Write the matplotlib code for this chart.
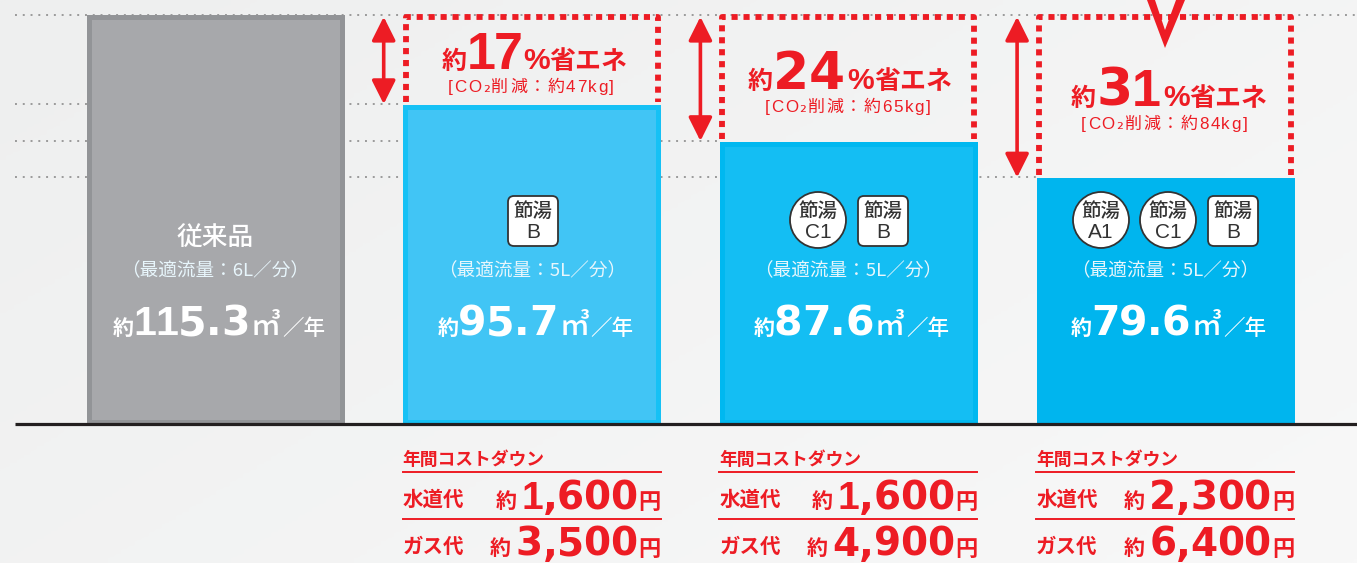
"""節水シャワーの年間使用水量比較チャート"""

import numpy as np
import matplotlib
matplotlib.use('Agg')
import matplotlib.pyplot as plt
from matplotlib.patches import Circle, FancyBboxPatch, Polygon

plt.rcParams['font.family'] = ['Noto Sans CJK JP', 'DejaVu Sans']

# データ
products = ['従来品', '', '', '']
flow_labels = ['（最適流量：6L／分）', '（最適流量：5L／分）', '（最適流量：5L／分）', '（最適流量：5L／分）']
water_m3 = [115.3, 95.7, 87.6, 79.6]
water_labels = ['115.3', '95.7', '87.6', '79.6']
saving_pct = [None, '17', '24', '31']
co2_labels = [None, '[CO₂削減：約47kg]', '[CO₂削減：約65kg]', '[CO₂削減：約84kg]']
badges = [[], [('B', 'r')], [('C1', 'c'), ('B', 'r')], [('A1', 'c'), ('C1', 'c'), ('B', 'r')]]
water_cost = [None, '1,600', '1,600', '2,300']
gas_cost = [None, '3,500', '4,900', '6,400']

# 色
fills = ['#A7A8AB', '#41C5F5', '#14BEF3', '#00B5EE']
edges = ['#929497', '#16C1F5', '#00B8F0', '#00B5EE']
RED = '#ED1C24'
FONT_JP = 'Noto Sans CJK JP'

W, H = 1357, 563
BASE_Y = 424
# 元の図は軸が途中から始まっている
PX_PER_M3 = 4.557
BASE_V = 25.5
BAR_X0, BAR_DX, BAR_W = 215, 316.7, 258
EDGE_PX = 5


def val_to_py(v):
    return BASE_Y - (v - BASE_V) * PX_PER_M3


fig = plt.figure(figsize=(W / 100, H / 100), dpi=100)

# 背景のグラデーション
bg = fig.add_axes([0, 0, 1, 1])
grad = np.linspace(0, 1, 200)[None, :] * 0.6 + np.linspace(0, 1, 200)[:, None] * 0.4
bg.imshow(grad, cmap=matplotlib.colors.LinearSegmentedColormap.from_list('bg', ['#EEEFEF', '#F8F8F8']),
          aspect='auto', extent=(0, 1, 0, 1))
bg.axis('off')

# 棒グラフ本体
ax = fig.add_axes([0, 0, 1, 1], facecolor='none')
ax.set_xlim(-BAR_X0 / BAR_DX, (W - BAR_X0) / BAR_DX)
ax.set_ylim(BASE_V - (H - BASE_Y) / PX_PER_M3, BASE_V + BASE_Y / PX_PER_M3)
ax.axis('off')
idx = np.arange(len(water_m3))
# 点線は各棒の左端まで、一番上だけ右端まで
line_ends = [(W - BAR_X0) / BAR_DX] + [i - BAR_W / BAR_DX / 2 for i in idx[1:]]
ax.hlines(water_m3, (15 - BAR_X0) / BAR_DX, line_ends, color='#9A9A9A',
          lw=1.4, linestyles=(0, (1, 3)), zorder=1)
inset = EDGE_PX / 2 / PX_PER_M3
ax.bar(idx, np.array(water_m3) - BASE_V - 2 * inset, bottom=BASE_V + inset,
       width=(BAR_W - EDGE_PX) / BAR_DX, color=fills, edgecolor=edges, linewidth=EDGE_PX * 0.72, zorder=2)

# 装飾用のピクセル座標軸
ov = fig.add_axes([0, 0, 1, 1], facecolor='none')
ov.set_xlim(0, W)
ov.set_ylim(H, 0)
ov.axis('off')
ov.plot([15, W], [BASE_Y, BASE_Y], color='#231F20', lw=2.3, zorder=3, solid_capstyle='butt')
renderer = fig.canvas.get_renderer()


def digit_font(ch):
    return 'Liberation Sans' if ch == '1' else 'DejaVu Sans'


def co2_font(ch):
    return 'Liberation Sans' if ch.isascii() else [FONT_JP, 'DejaVu Sans']


def put(x, y, s, px, color, weight='bold', family=FONT_JP, gap=1.0):
    t = ov.text(x, y, s, fontsize=px * 0.72, color=color, fontweight=weight, family=family,
                ha='left', va='baseline', zorder=6)
    return x + t.get_window_extent(renderer).width + gap


def put_num(x, y, s, px, color, gap=1.5, font_of=digit_font, weight='bold'):
    for ch in s:
        x = put(x, y, ch, px, color, weight=weight, family=font_of(ch), gap=gap)
    return x


def run_width(s, px, gap, weight, font_of):
    total = 0
    for ch in s:
        t = ov.text(0, 0, ch, fontsize=px * 0.72, fontweight=weight, family=font_of(ch), alpha=0)
        total += t.get_window_extent(renderer).width + gap
        t.remove()
    return total


# 各棒の中の文字
left_water = [113, 438, 754, 1071]
for i, v in enumerate(water_m3):
    cx = BAR_X0 + i * BAR_DX
    if products[i]:
        ov.text(cx, 237, products[i], fontsize=18.5, color='white', ha='center', va='center',
                fontweight='medium', zorder=6)
    ov.text(cx, 271, flow_labels[i], fontsize=13.4, color='#E8F6FC', ha='center', va='center',
            fontweight='normal', zorder=6)
    x = put(left_water[i], 335, '約', 21, 'white', gap=-1)
    x = put_num(x, 335, water_labels[i], 41, 'white', gap=-0.5)
    x = put(x + 2, 335, '㎥', 30, 'white', weight='medium', gap=1)
    put(x, 335, '／年', 21.5, 'white', weight='medium', gap=0)

# バッジ
badge_x = [[], [533], [818, 883], [1101, 1168, 1233]]
for i, row in enumerate(badges):
    for (code, kind), bx in zip(row, badge_x[i]):
        if kind == 'c':
            ov.add_patch(Circle((bx, 220), 28, fc='white', ec='#333333', lw=1.3, zorder=5))
        else:
            ov.add_patch(FancyBboxPatch((bx - 22, 199), 44, 44, boxstyle='round,pad=3,rounding_size=6',
                                        fc='white', ec='#333333', lw=1.3, zorder=5))
        ov.text(bx, 211, '節湯', fontsize=14, color='#333333', ha='center', va='center',
                fontweight='medium', zorder=6)
        ov.text(bx, 233, code, fontsize=15, color='#333333', ha='center', va='center',
                family='Liberation Sans', zorder=6)

# 省エネの点線枠と矢印
left_save = [None, 442, 748, 1071]
base_save = [None, 69, 89, 106]
base_co2 = [None, 92, 112, 129]
for i in range(1, 4):
    cx = BAR_X0 + i * BAR_DX
    left, right = cx - BAR_W / 2 + 3, cx + BAR_W / 2 - 3
    top_y = val_to_py(water_m3[0]) + 2
    bar_y = val_to_py(water_m3[i])
    ov.plot([left, left, right, right], [bar_y - 2, top_y, top_y, bar_y - 2], color=RED, lw=4.2,
            linestyle=(0, (1.05, 1.0)), dash_capstyle='butt', zorder=4)
    ax_x = cx - BAR_W / 2 - 19
    ov.annotate('', xy=(ax_x, val_to_py(water_m3[0]) + 2), xytext=(ax_x, bar_y),
                arrowprops=dict(arrowstyle='<|-|>,head_length=0.9,head_width=0.45', color=RED, lw=2.6,
                                mutation_scale=16, shrinkA=0, shrinkB=0), zorder=5)
    by = base_save[i]
    x = put(left_save[i], by, '約', 25, RED, gap=0)
    if saving_pct[i] == '17':
        x = put_num(x, by, saving_pct[i], 52, RED, gap=-2, font_of=lambda ch: 'Liberation Sans')
    else:
        x = put_num(x, by, saving_pct[i], 52, RED, gap=0)
    x = put(x + 2, by, '%', 30, RED, family='Liberation Sans', gap=0)
    put(x, by, '省エネ', 26, RED, gap=0)
    # CO2の行は字間を少し空ける
    s = co2_labels[i]
    w = run_width(s, 17, 1.6, 'normal', co2_font)
    put_num(cx - w / 2, base_co2[i], s, 17, RED, gap=1.6, font_of=co2_font, weight='normal')

# 4本目の上のV字
ov.add_patch(Polygon([(1147, 0), (1165, 48), (1185, 0), (1176, 0), (1165, 30), (1155, 0)],
                     closed=True, fc=RED, ec='none', zorder=6))

# コストダウン表
for i in range(1, 4):
    cx = BAR_X0 + i * BAR_DX
    left, right = cx - BAR_W / 2, cx + BAR_W / 2
    put(left, 465, '年間コストダウン', 17.8, RED, gap=0)
    ov.plot([left, right], [472, 472], color=RED, lw=1.4, zorder=4)
    ov.plot([left, right], [519, 519], color=RED, lw=1.4, zorder=4)
    for label, cost, y in [('水道代', water_cost[i], 509), ('ガス代', gas_cost[i], 556)]:
        put(left, y - 3, label, 20.5, RED, gap=0)
        ov.text(right, y, '円', fontsize=16, color=RED, fontweight='bold', ha='right', va='baseline', zorder=6)
        x0 = right - 24 - run_width(cost, 39, -0.5, 'bold', digit_font)
        put(x0 - 26, y - 1, '約', 21, RED, gap=0)
        put_num(x0, y, cost, 39, RED, gap=-0.5)

fig.savefig('out.png', dpi=100)
plt.close()
